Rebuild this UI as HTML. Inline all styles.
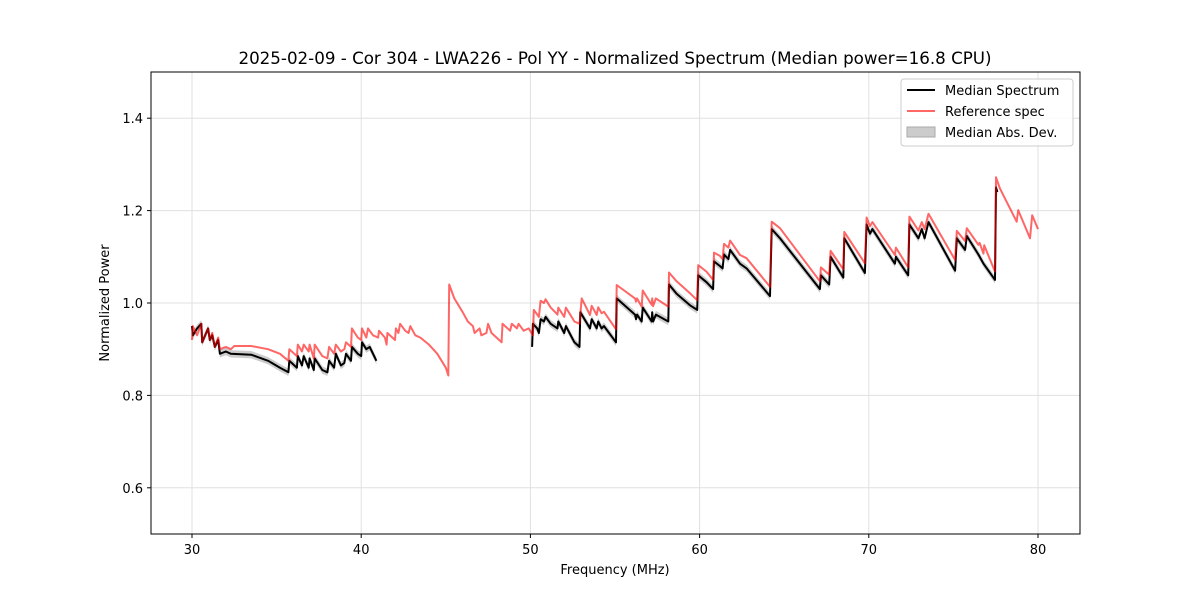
<!DOCTYPE html>
<html><head><meta charset="utf-8"><style>
body{margin:0;background:#fff;}
svg text{font-family:"DejaVu Sans","Liberation Sans",sans-serif;fill:#000;}
</style></head><body>
<svg id="chart" width="1200" height="600" xmlns="http://www.w3.org/2000/svg">
<rect width="1200" height="600" fill="#fff"/>
<text x="615" y="64" text-anchor="middle" font-size="16.7">2025-02-09 - Cor 304 - LWA226 - Pol YY - Normalized Spectrum (Median power=16.8 CPU)</text>
<g id="grid"></g>
<g id="marks"></g>
<rect x="151" y="72" width="929" height="462" fill="none" stroke="#000" stroke-width="1"/>
<g id="ticks"></g>
<text x="615" y="574" text-anchor="middle" font-size="13">Frequency (MHz)</text>
<text transform="translate(109,303) rotate(-90)" text-anchor="middle" font-size="13">Normalized Power</text>
<g>
<rect x="901" y="79" width="172" height="67" rx="3" fill="#fff" fill-opacity="0.8" stroke="#ccc"/>
<line x1="907" y1="90" x2="935" y2="90" stroke="#000" stroke-width="2"/>
<text x="945" y="95" font-size="13">Median Spectrum</text>
<line x1="907" y1="111" x2="935" y2="111" stroke="#ff6666" stroke-width="2"/>
<text x="945" y="116" font-size="13">Reference spec</text>
<rect x="907" y="127" width="28" height="10" fill="#ccc" stroke="#aaa"/>
<text x="945" y="137" font-size="13">Median Abs. Dev.</text>
</g>
</svg>
<script>
const xTicks=[30,40,50,60,70,80];
const yTicks=[0.6,0.8,1.0,1.2,1.4];
const refFreq=[30.0,30.05,30.3,30.55,30.6,30.95,31.05,31.2,31.35,31.55,31.65,32.0,32.3,32.5,33.5,34.5,35.2,35.7,35.75,36.2,36.25,36.5,36.6,36.9,36.95,37.2,37.25,37.7,38.0,38.1,38.4,38.5,38.8,39.0,39.1,39.4,39.45,39.8,40.0,40.05,40.3,40.4,40.7,41.0,41.05,41.4,41.5,41.55,42.0,42.05,42.2,42.3,42.6,42.8,42.9,43.2,43.5,44.0,44.5,45.0,45.15,45.2,45.5,46.0,46.3,46.6,46.7,47.0,47.1,47.4,47.5,47.7,48.0,48.3,48.35,48.8,48.9,49.2,49.3,49.6,49.9,50.15,50.2,50.5,50.6,50.8,50.9,51.2,51.6,51.65,52.0,52.1,52.6,52.9,53.03,53.52,53.62,53.92,54.01,54.21,54.35,55.06,55.1,56.18,56.24,56.3,56.58,56.64,57.17,57.2,57.25,57.42,58.15,58.19,58.64,59.43,59.86,59.92,60.41,60.8,60.85,61.2,61.36,61.44,61.7,61.8,62.39,62.78,64.16,64.26,64.75,67.11,67.17,67.66,67.74,68.49,68.55,69.77,69.87,70.07,70.21,71.54,71.6,72.33,72.4,72.93,73.13,73.3,73.53,75.1,75.2,75.69,75.79,76.48,76.55,76.78,76.82,77.46,77.52,77.75,78.74,78.83,79.53,79.66,80.0];
const refValues=[0.92,0.95,0.93,0.955,0.915,0.945,0.92,0.935,0.905,0.925,0.9,0.905,0.9,0.907,0.907,0.9,0.89,0.875,0.9,0.885,0.91,0.895,0.91,0.895,0.91,0.88,0.91,0.885,0.88,0.905,0.89,0.91,0.895,0.9,0.915,0.905,0.945,0.925,0.92,0.945,0.925,0.945,0.93,0.925,0.94,0.925,0.91,0.935,0.92,0.945,0.935,0.955,0.94,0.935,0.95,0.93,0.925,0.91,0.89,0.86,0.843,1.04,1.01,0.98,0.96,0.95,0.935,0.945,0.93,0.935,0.955,0.935,0.925,0.915,0.955,0.94,0.955,0.945,0.955,0.94,0.945,0.93,0.985,0.97,1.005,1.0,1.008,0.99,0.975,0.99,0.97,0.99,0.96,0.955,1.01,0.974,0.994,0.974,0.991,0.978,0.981,0.943,1.039,1.01,1.003,1.01,0.992,1.027,0.996,1.01,0.993,1.01,0.992,1.066,1.047,1.021,1.006,1.082,1.068,1.05,1.109,1.102,1.095,1.128,1.12,1.135,1.104,1.097,1.035,1.176,1.162,1.047,1.077,1.061,1.113,1.073,1.154,1.086,1.185,1.166,1.175,1.104,1.12,1.077,1.187,1.157,1.175,1.16,1.193,1.093,1.156,1.134,1.162,1.126,1.13,1.107,1.125,1.068,1.272,1.248,1.176,1.201,1.14,1.19,1.16];
const medFreq1=[30.0,30.05,30.3,30.55,30.6,30.95,31.05,31.2,31.35,31.55,31.65,32.0,32.3,33.5,34.5,35.2,35.7,35.75,36.2,36.25,36.5,36.6,36.9,36.95,37.2,37.25,37.7,38.0,38.1,38.4,38.5,38.8,39.0,39.1,39.4,39.45,39.8,40.0,40.05,40.3,40.5,40.9];
const medValues1=[0.95,0.93,0.945,0.955,0.915,0.945,0.92,0.93,0.905,0.92,0.89,0.895,0.89,0.888,0.875,0.86,0.85,0.875,0.86,0.885,0.865,0.885,0.86,0.88,0.855,0.88,0.855,0.85,0.875,0.86,0.89,0.865,0.87,0.89,0.875,0.905,0.89,0.885,0.915,0.9,0.905,0.875];
const medFreq2=[50.1,50.15,50.4,50.5,50.6,50.8,50.9,51.2,51.6,51.65,52.0,52.1,52.6,52.9,52.95,53.52,53.62,53.92,54.01,54.21,54.35,55.06,55.1,56.18,56.24,56.3,56.58,56.64,57.17,57.2,57.25,57.42,58.15,58.19,58.64,59.43,59.86,59.92,60.41,60.8,60.85,61.2,61.36,61.44,61.7,61.8,62.39,62.78,64.16,64.26,64.75,67.11,67.17,67.66,67.74,68.49,68.55,69.77,69.87,70.07,70.21,71.54,71.6,72.33,72.4,72.93,73.13,73.3,73.53,75.1,75.2,75.69,75.79,76.48,76.78,77.46,77.52,77.6];
const medValues2=[0.905,0.955,0.945,0.935,0.965,0.96,0.97,0.955,0.945,0.96,0.935,0.95,0.915,0.905,0.98,0.945,0.965,0.945,0.96,0.945,0.95,0.915,1.01,0.975,0.965,0.975,0.96,0.99,0.96,0.98,0.96,0.975,0.96,1.04,1.02,0.995,0.985,1.06,1.045,1.03,1.09,1.08,1.075,1.105,1.095,1.115,1.085,1.075,1.015,1.16,1.14,1.03,1.06,1.04,1.1,1.055,1.14,1.065,1.17,1.15,1.16,1.085,1.1,1.06,1.17,1.14,1.16,1.14,1.175,1.07,1.14,1.115,1.145,1.105,1.085,1.05,1.25,1.24];
const madValues=[0.008,0.008];

const NS='http://www.w3.org/2000/svg';
const X=f=>192+(f-30)*16.92;
const Y=v=>534-(v-0.5)*462;
function mk(tag,attrs,parent){const e=document.createElementNS(NS,tag);for(const k in attrs)e.setAttribute(k,attrs[k]);parent.appendChild(e);return e;}
const grid=document.getElementById('grid'),ticks=document.getElementById('ticks'),marks=document.getElementById('marks');
xTicks.forEach(t=>{
 const g=mk('line',{x1:X(t),x2:X(t),y1:72,y2:534,stroke:'#e0e0e0','stroke-width':1},grid);
 
 
 mk('line',{x1:X(t),x2:X(t),y1:534,y2:538,stroke:'#000'},ticks);
 const tx=mk('text',{x:X(t),y:554,'text-anchor':'middle','font-size':13},ticks);
 tx.textContent=t;
 
 
});
yTicks.forEach(t=>{
 const g=mk('line',{x1:151,x2:1080,y1:Y(t),y2:Y(t),stroke:'#e0e0e0','stroke-width':1},grid);
 
 
 mk('line',{x1:147,x2:151,y1:Y(t),y2:Y(t),stroke:'#000'},ticks);
 const tx=mk('text',{x:143,y:Y(t)+5,'text-anchor':'end','font-size':13},ticks);
 tx.textContent=t.toFixed(1);
 
 
});
function linePath(fs,vs){return fs.map((f,i)=>(i?'L':'M')+X(f).toFixed(1)+','+Y(vs[i]).toFixed(1)).join('');}
function band(fs,vs,m){
 let d=fs.map((f,i)=>(i?'L':'M')+X(f).toFixed(1)+','+Y(vs[i]+m).toFixed(1)).join('');
 for(let i=fs.length-1;i>=0;i--)d+='L'+X(fs[i]).toFixed(1)+','+Y(vs[i]-m).toFixed(1);
 return d+'Z';
}
[[medFreq1,medValues1,madValues[0]],[medFreq2,medValues2,madValues[1]]].forEach(([fs,vs,m])=>{
 const b=mk('path',{d:band(fs,vs,m),fill:'#999','fill-opacity':0.5,stroke:'none'},marks);
 
 
});
[[medFreq1,medValues1],[medFreq2,medValues2]].forEach(([fs,vs])=>{
 const l=mk('path',{d:linePath(fs,vs),fill:'none',stroke:'#000','stroke-width':2,'stroke-linejoin':'round'},marks);
 
 
});
const r=mk('path',{d:linePath(refFreq,refValues),fill:'none',stroke:'rgb(255,0,0)','stroke-opacity':0.6,'stroke-width':2,'stroke-linejoin':'round'},marks);


</script>
</body></html>
